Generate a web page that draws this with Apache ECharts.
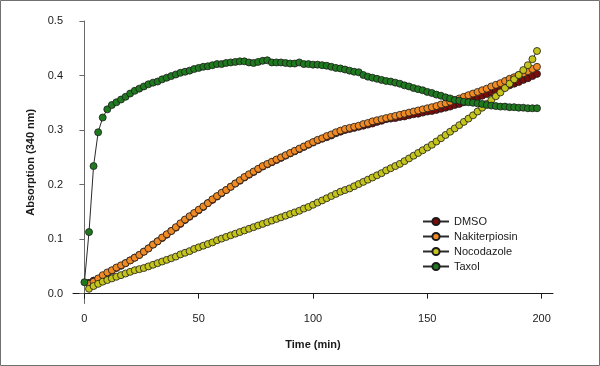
<!DOCTYPE html>
<html>
<head>
<meta charset="utf-8">
<script src="https://cdn.jsdelivr.net/npm/echarts@6/dist/echarts.min.js"></script>
<style>
  html, body { margin: 0; padding: 0; background: #fff; }
  #chart { width: 600px; height: 366px; }
</style>
</head>
<body>
<div id="chart"></div>
<script>
// sampling times (min), one reading every 2 min
var timesTaxol = [0,2,4,6,8,10,12,14,16,18,20,22,24,26,28,30,32,34,36,38,40,42,44,46,48,50,52,54,56,58,60,62,64,66,68,70,72,74,76,78,80,82,84,86,88,90,92,94,96,98,100,102,104,106,108,110,112,114,116,118,120,122,124,126,128,130,132,134,136,138,140,142,144,146,148,150,152,154,156,158,160,162,164,166,168,170,172,174,176,178,180,182,184,186,188,190,192,194,196,198];
var timesOther = [2,4,6,8,10,12,14,16,18,20,22,24,26,28,30,32,34,36,38,40,42,44,46,48,50,52,54,56,58,60,62,64,66,68,70,72,74,76,78,80,82,84,86,88,90,92,94,96,98,100,102,104,106,108,110,112,114,116,118,120,122,124,126,128,130,132,134,136,138,140,142,144,146,148,150,152,154,156,158,160,162,164,166,168,170,172,174,176,178,180,182,184,186,188,190,192,194,196,198];

var dmso = [0.020,0.024,0.027,0.032,0.037,0.042,0.047,0.051,0.056,0.061,0.066,0.071,0.077,0.083,0.090,0.096,0.102,0.108,0.115,0.121,0.128,0.135,0.141,0.147,0.153,0.159,0.166,0.172,0.178,0.184,0.190,0.196,0.202,0.207,0.213,0.218,0.223,0.228,0.233,0.237,0.241,0.245,0.249,0.253,0.257,0.261,0.265,0.269,0.273,
  0.277,0.281,0.284,0.287,0.290,0.294,0.297,0.300,0.302,0.304,0.306,0.308,0.310,0.312,0.315,0.317,0.320,0.321,0.322,0.324,0.325,0.327,0.329,0.330,0.332,0.334,0.335,0.337,0.339,0.341,0.343,0.346,0.348,0.351,0.354,0.357,0.360,0.363,0.366,0.369,0.372,0.375,0.378,0.382,0.385,0.388,0.392,0.395,0.399,0.403];

var nakiterpiosin = [0.018,0.022,0.028,0.034,0.039,0.043,0.048,0.052,0.056,0.061,0.066,0.071,0.077,0.083,0.090,0.096,0.103,0.109,0.115,0.122,0.129,0.136,0.142,0.148,0.154,0.160,0.166,0.173,0.179,0.185,0.190,0.196,0.202,0.208,0.214,0.219,0.224,0.229,0.234,0.238,0.242,0.246,0.250,0.254,0.258,0.262,0.266,0.270,0.274,
  0.278,0.282,0.285,0.289,0.292,0.296,0.299,0.302,0.304,0.306,0.308,0.311,0.313,0.316,0.318,0.320,0.322,0.324,0.326,0.328,0.330,0.332,0.334,0.336,0.338,0.340,0.342,0.344,0.347,0.349,0.352,0.355,0.358,0.361,0.364,0.367,0.370,0.373,0.376,0.380,0.383,0.386,0.390,0.394,0.397,0.401,0.404,0.408,0.412,0.416,0.420];

var nocodazole = [0.009,0.014,0.018,0.022,0.025,0.028,0.031,0.034,0.037,0.040,0.043,0.045,0.047,0.050,0.053,0.056,0.059,0.062,0.065,0.068,0.072,0.075,0.078,0.082,0.085,0.088,0.091,0.094,0.098,0.101,0.104,0.107,0.110,0.113,0.116,0.119,0.122,0.125,0.128,0.131,0.134,0.137,0.140,0.143,0.146,0.149,0.152,0.156,0.159,
  0.163,0.167,0.171,0.175,0.179,0.183,0.187,0.190,0.193,0.197,0.201,0.205,0.209,0.213,0.217,0.221,0.226,0.230,0.234,0.238,0.243,0.248,0.253,0.258,0.263,0.268,0.273,0.279,0.285,0.291,0.297,0.303,0.309,0.315,0.321,0.327,0.334,0.341,0.348,0.355,0.362,0.369,0.377,0.385,0.393,0.401,0.410,0.419,0.430,0.445];

var taxol = [0.021,0.113,0.234,0.296,0.323,0.338,0.346,0.351,0.356,0.361,0.367,0.372,0.376,0.380,0.384,0.387,0.389,0.393,0.396,0.399,0.402,0.405,0.407,0.409,0.412,0.414,0.416,0.417,0.419,0.421,0.421,0.423,0.424,0.425,0.426,0.426,0.424,0.423,0.425,0.427,0.428,0.424,0.424,0.424,0.423,0.422,0.422,0.424,0.421,0.421,
  0.420,0.420,0.419,0.418,0.416,0.414,0.413,0.411,0.409,0.407,0.406,0.401,0.398,0.396,0.394,0.392,0.390,0.389,0.387,0.385,0.382,0.380,0.377,0.375,0.373,0.370,0.368,0.365,0.363,0.360,0.358,0.355,0.354,0.352,0.351,0.350,0.349,0.348,0.346,0.345,0.344,0.343,0.343,0.342,0.342,0.341,0.341,0.340,0.340,0.340];

var xTicks = [0, 50, 100, 150, 200];
var yTicks = [0, 0.1, 0.2, 0.3, 0.4, 0.5];

var seriesNames = ['DMSO', 'Nakiterpiosin', 'Nocodazole', 'Taxol'];
var seriesColors = ['#7a0c0c', '#f08a24', '#c4c41c', '#1f7a1f'];

function pairs(xs, ys) {
    return xs.map(function (x, i) { return [x, ys[i]]; });
}

var chart = echarts.init(document.getElementById('chart'), null, { renderer: 'canvas' });

var font = '"Liberation Sans", Arial, sans-serif';

function makeSeries(name, color, data) {
    return {
        name: name,
        type: 'line',
        data: data,
        symbol: 'circle',
        symbolSize: 7,
        showSymbol: true,
        showAllSymbol: true,
        animation: false,
        lineStyle: { color: '#2a2a2a', width: 1 },
        itemStyle: { color: color, borderColor: '#1a1a1a', borderWidth: 0.8 },
        emphasis: { disabled: true }
    };
}

const option = {
    backgroundColor: '#fff',
    animation: false,
    graphic: [{
        type: 'rect',
        shape: { x: 0.5, y: 0.5, width: 599, height: 365 },
        style: { fill: 'none', stroke: '#707070', lineWidth: 1 },
        silent: true
    }],
    legend: {
        orient: 'vertical',
        left: 422,
        top: 216,
        padding: 0,
        itemWidth: 26,
        itemHeight: 9,
        itemGap: 4,
        data: seriesNames,
        textStyle: { fontFamily: font, fontSize: 11, color: '#1a1a1a', lineHeight: 10 }
    },
    grid: {
        left: 73,
        right: 47,
        top: 21,
        bottom: 62.5,
        containLabel: false
    },
    xAxis: {
        type: 'value',
        min: -5,
        max: 205,
        name: 'Time (min)',
        nameLocation: 'middle',
        nameGap: 36,
        nameTextStyle: { fontFamily: font, fontSize: 11, fontWeight: 'bold', color: '#1a1a1a' },
        axisLine: { show: true, lineStyle: { color: '#1a1a1a', width: 1 } },
        axisTick: { show: true, length: 5, customValues: xTicks, lineStyle: { color: '#1a1a1a' } },
        axisLabel: { customValues: xTicks, margin: 10, fontFamily: font, fontSize: 11, color: '#1a1a1a' },
        splitLine: { show: false }
    },
    yAxis: {
        type: 'value',
        min: -0.018,
        max: 0.5,
        name: 'Absorption (340 nm)',
        nameLocation: 'middle',
        nameRotate: 90,
        nameGap: 31,
        nameTextStyle: { fontFamily: font, fontSize: 11, fontWeight: 'bold', color: '#1a1a1a' },
        axisLine: { show: true, lineStyle: { color: '#6a6a6a', width: 1 } },
        axisTick: { show: true, length: 5, customValues: yTicks, lineStyle: { color: '#6a6a6a' } },
        axisLabel: {
            customValues: yTicks,
            margin: 10,
            fontFamily: font,
            fontSize: 11,
            color: '#1a1a1a',
            formatter: function (v) { return v.toFixed(1); }
        },
        splitLine: { show: false }
    },
    series: [
        makeSeries(seriesNames[0], seriesColors[0], pairs(timesOther, dmso)),
        makeSeries(seriesNames[1], seriesColors[1], pairs(timesOther, nakiterpiosin)),
        makeSeries(seriesNames[2], seriesColors[2], pairs(timesOther, nocodazole)),
        makeSeries(seriesNames[3], seriesColors[3], pairs(timesTaxol, taxol))
    ]
};

chart.setOption(option, true);
window.addEventListener('resize', function () {
    chart.resize();
});
</script>
</body>
</html>
